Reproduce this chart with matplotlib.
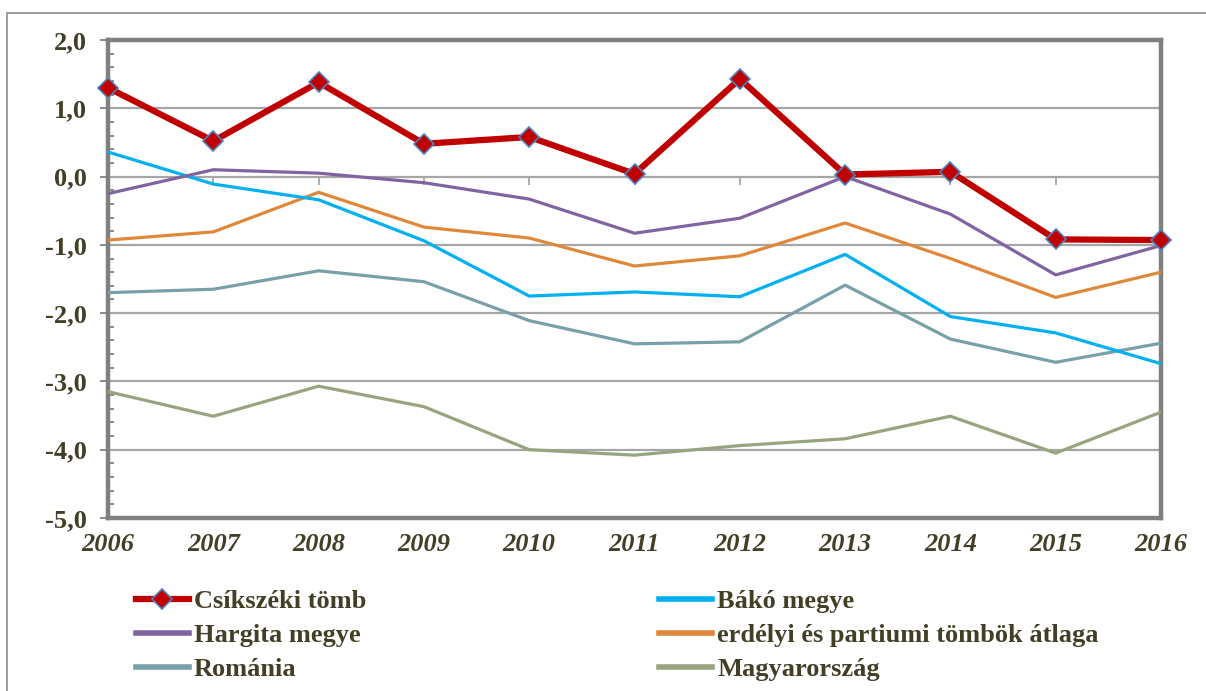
import matplotlib.pyplot as plt
import matplotlib.patches as mpatches
from matplotlib.ticker import MultipleLocator, FuncFormatter
from matplotlib.lines import Line2D

years = list(range(2006, 2017))

csikszeki = [1.30, 0.52, 1.38, 0.48, 0.58, 0.04, 1.43, 0.03, 0.07, -0.92, -0.93]
bako = [0.36, -0.11, -0.34, -0.94, -1.75, -1.69, -1.76, -1.14, -2.05, -2.29, -2.74]
hargita = [-0.25, 0.10, 0.05, -0.09, -0.33, -0.83, -0.61, 0.00, -0.55, -1.44, -1.01]
erdelyi = [-0.93, -0.81, -0.23, -0.74, -0.90, -1.31, -1.16, -0.68, -1.20, -1.77, -1.40]
romania = [-1.70, -1.65, -1.38, -1.54, -2.11, -2.45, -2.42, -1.59, -2.38, -2.72, -2.44]
magyar = [-3.15, -3.51, -3.07, -3.37, -4.00, -4.08, -3.94, -3.84, -3.51, -4.05, -3.45]

labels = ['Csíkszéki tömb', 'Bákó megye', 'Hargita megye',
          'erdélyi és partiumi tömbök átlaga', 'Románia', 'Magyarország']

txt_color = '#433F26'
plt.rcParams['font.family'] = ['Liberation Serif', 'DejaVu Serif']

fig = plt.figure(figsize=(12.06, 6.91), dpi=100)
ax = fig.add_axes([0.0896, 0.2504, 0.8731, 0.6917])

# outer chart border
fig.patches.append(mpatches.Rectangle((7 / 1206, -0.05), 1.2, 1 - 13 / 691 + 0.05,
                                      transform=fig.transFigure, fill=False,
                                      edgecolor='#8c8c8c', linewidth=1.2))

ax.set_xlim(2006, 2016)
ax.set_ylim(-5, 2)
ax.yaxis.set_major_locator(MultipleLocator(1))
ax.yaxis.set_minor_locator(MultipleLocator(0.2))
ax.yaxis.set_major_formatter(FuncFormatter(lambda v, p: f'{v:.1f}'.replace('.', ',')))
ax.set_xticks(years)
ax.grid(axis='y', which='major', color='#a6a6a6', linewidth=1.6, zorder=0)
ax.set_axisbelow(True)

# small ticks where the category axis crosses zero
ax.vlines(years, -0.12, 0, color='#a6a6a6', linewidth=1.3, zorder=1)

l_rom, = ax.plot(years, romania, color='#78A0A8', linewidth=2.3, zorder=3)
l_mag, = ax.plot(years, magyar, color='#98A47E', linewidth=2.3, zorder=3)
l_erd, = ax.plot(years, erdelyi, color='#E0883A', linewidth=2.3, zorder=3)
l_bak, = ax.plot(years, bako, color='#00B0F0', linewidth=2.3, zorder=4)
l_har, = ax.plot(years, hargita, color='#8064A2', linewidth=2.3, zorder=4)
l_csi, = ax.plot(years, csikszeki, color='#C00000', linewidth=4.5, zorder=5,
                 marker='D', markersize=10, markerfacecolor='#C00000',
                 markeredgecolor='#4F81BD', markeredgewidth=1.2, clip_on=False)

for s in ax.spines.values():
    s.set_color('#808080')
    s.set_linewidth(3.2)

ax.tick_params(axis='y', which='major', direction='out', length=6, width=1.3,
               color='#808080', pad=9, labelsize=19, labelcolor=txt_color)
ax.tick_params(axis='y', which='minor', direction='in', length=4, width=1.3,
               color='#808080')
ax.tick_params(axis='x', which='major', length=0, pad=11, labelsize=19,
               labelcolor=txt_color)
for t in ax.get_yticklabels():
    t.set_fontweight('bold')
for t in ax.get_xticklabels():
    t.set_fontweight('bold')
    t.set_fontstyle('italic')

handles = [l_csi, l_har, l_rom, l_bak, l_erd, l_mag]
hl = [labels[0], labels[2], labels[4], labels[1], labels[3], labels[5]]
leg_handles = []
for h in handles:
    if h is l_csi:
        leg_handles.append(Line2D([], [], color='#C00000', linewidth=4.5, marker='D',
                                  markersize=10, markerfacecolor='#C00000',
                                  markeredgecolor='#4F81BD', markeredgewidth=1.2))
    else:
        leg_handles.append(Line2D([], [], color=h.get_color(), linewidth=4))
leg = fig.legend(leg_handles, hl, ncol=2, loc='upper left',
                 bbox_to_anchor=(0.104, 0.162), frameon=False,
                 prop={'family': 'Liberation Serif', 'weight': 'bold', 'size': 19},
                 handlelength=2.0, handletextpad=0.2, columnspacing=11.1,
                 labelspacing=0.4, borderaxespad=0)
for t in leg.get_texts():
    t.set_color(txt_color)

fig.savefig('out.png', dpi=100)
